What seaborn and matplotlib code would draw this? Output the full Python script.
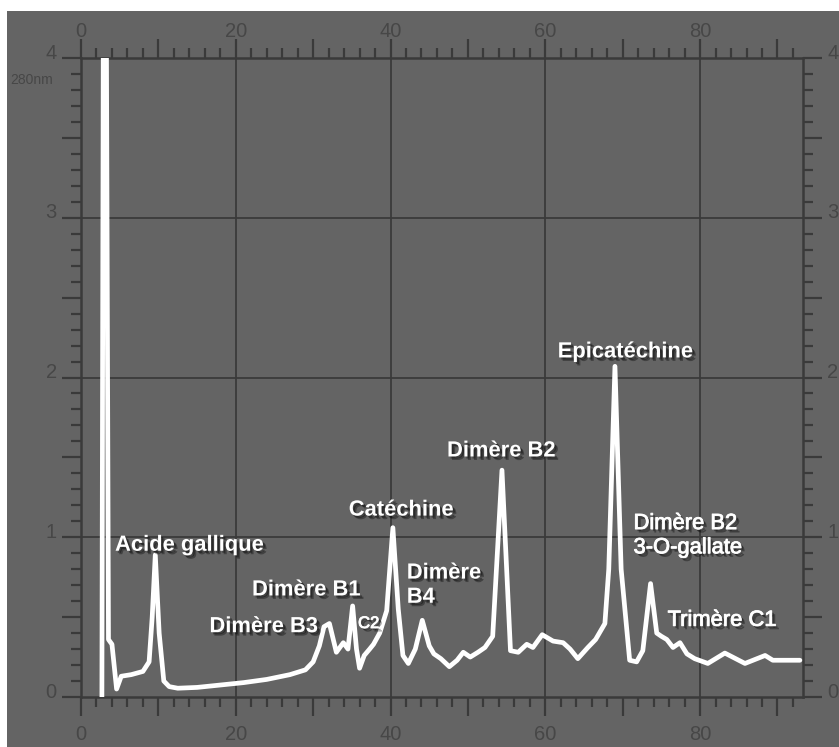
import matplotlib
matplotlib.use("Agg")
import matplotlib.pyplot as plt
import matplotlib.patheffects as pe
import matplotlib.transforms as mtransforms
from matplotlib.ticker import MultipleLocator, FuncFormatter
from matplotlib.patches import Rectangle
import seaborn as sns
import pandas as pd

# ---- data (retention time in min, absorbance at 280 nm) ----
time = [2.7, 2.9, 3.25, 3.55, 4.0, 4.6, 5.2, 6.5, 8.0, 8.8, 9.2, 9.6, 10.1, 10.7,
        11.4, 12.5, 15, 18, 21, 24, 27, 29, 30, 30.8, 31.4, 32.1, 33.0, 33.9,
        34.5, 35.1, 35.6, 36.0, 36.6, 37.3, 37.8, 38.6, 39.5, 40.3, 41.0, 41.6,
        42.3, 43.2, 44.1, 45.0, 45.6, 46.5, 47.6, 48.6, 49.4, 50.3, 51.3, 52.2,
        53.2, 54.4, 55.5, 56.5, 57.6, 58.4, 59.6, 61.0, 62.3, 63.2, 64.2, 65.5,
        66.5, 67.7, 68.2, 69.0, 69.8, 70.9, 71.8, 72.6, 73.6, 74.4, 75.0, 75.7,
        76.5, 77.4, 78.3, 79.3, 81.0, 83.2, 85.8, 88.4, 89.4, 92.9]
absorbance = [0.0, 4.6, 4.6, 0.36, 0.33, 0.05, 0.13, 0.14, 0.16, 0.22, 0.5, 0.89,
              0.4, 0.1, 0.065, 0.055, 0.06, 0.075, 0.09, 0.11, 0.14, 0.17, 0.22,
              0.32, 0.44, 0.46, 0.28, 0.34, 0.30, 0.57, 0.30, 0.18, 0.26, 0.30,
              0.33, 0.40, 0.54, 1.06, 0.55, 0.26, 0.21, 0.30, 0.48, 0.32, 0.27,
              0.24, 0.19, 0.23, 0.28, 0.25, 0.28, 0.31, 0.38, 1.42, 0.29, 0.28,
              0.33, 0.31, 0.39, 0.35, 0.34, 0.30, 0.24, 0.31, 0.36, 0.46, 0.8,
              2.07, 0.8, 0.23, 0.22, 0.29, 0.71, 0.40, 0.38, 0.36, 0.31, 0.34,
              0.27, 0.24, 0.21, 0.275, 0.21, 0.26, 0.23, 0.23]

# peak labels
peak_labels = ["Acide gallique", "Dimère B3", "Dimère B1", "C2", "Catéchine",
               "Dimère\nB4", "Dimère B2", "Epicatéchine", "Dimère B2\n3-O-gallate",
               "Trimère C1"]
label_x = [4.4, 16.6, 22.1, 35.8, 34.6, 42.1, 47.3, 61.6, 71.4, 75.8]
label_y = [0.95, 0.44, 0.67, 0.46, 1.17, 0.70, 1.54, 2.16, 1.01, 0.48]
label_bold = [True, True, True, False, True, True, True, True, False, False]

x_ticklabels = [0, 20, 40, 60, 80]
y_ticklabels = [0, 1, 2, 3, 4]
unit_label = "280nm"

df = pd.DataFrame({"time": time, "abs": absorbance})

sns.set_style("ticks")
plt.rcParams["font.family"] = ["Liberation Sans", "DejaVu Sans"]

BG = "#646464"
DARK = "#3a3a3a"
TXT = "#474747"

fig = plt.figure(figsize=(8.39, 7.47), dpi=100, facecolor="white")
fig.patches.append(Rectangle((7 / 839, 0), 1, 1 - 11 / 747, transform=fig.transFigure,
                             facecolor=BG, edgecolor="none", zorder=-10))
ax = fig.add_axes([81 / 839, 1 - 697 / 747, (803 - 81) / 839, (697 - 58) / 747])
ax.set_facecolor(BG)

for gx in x_ticklabels[1:]:
    ax.axvline(gx, color=DARK, lw=1.3, zorder=1)
for gy in y_ticklabels[1:-1]:
    ax.axhline(gy, color=DARK, lw=1.3, zorder=1)

sns.lineplot(data=df, x="time", y="abs", sort=False, estimator=None, ax=ax,
             color="white", lw=3.4, zorder=3)

ax.set_xlim(0, 93.3)
ax.set_ylim(0, 4)
ax.set_xlabel("")
ax.set_ylabel("")

for s in ax.spines.values():
    s.set_color(DARK)
    s.set_linewidth(1.8)
    s.set_visible(True)

ax.xaxis.set_major_locator(MultipleLocator(10))
ax.xaxis.set_minor_locator(MultipleLocator(2))
ax.yaxis.set_major_locator(MultipleLocator(0.5))
ax.yaxis.set_minor_locator(MultipleLocator(0.1))
ax.xaxis.set_major_formatter(FuncFormatter(
    lambda v, p: f"{int(round(v))}" if int(round(v)) in x_ticklabels and abs(v - round(v)) < 1e-6 else ""))
ax.yaxis.set_major_formatter(FuncFormatter(
    lambda v, p: f"{int(round(v))}" if abs(v - round(v)) < 1e-6 and int(round(v)) in y_ticklabels else ""))

ax.tick_params(which="both", direction="out", top=True, right=True,
               labeltop=True, labelright=True, color=DARK, width=1.6,
               labelcolor=TXT, labelsize=14.5)
ax.tick_params(which="major", length=13.5)
ax.tick_params(which="minor", length=7)
ax.tick_params(axis="x", which="major", pad=4)
ax.tick_params(axis="y", which="major", pad=4)

shift_up = mtransforms.ScaledTranslation(0, 5 / 72, fig.dpi_scale_trans)
for t in ax.yaxis.get_major_ticks():
    t.label1.set_transform(t.label1.get_transform() + shift_up)
    t.label2.set_transform(t.label2.get_transform() + shift_up)
shift_down = mtransforms.ScaledTranslation(0, -3 / 72, fig.dpi_scale_trans)
shift_top = mtransforms.ScaledTranslation(0, -5 / 72, fig.dpi_scale_trans)
for t in ax.xaxis.get_major_ticks():
    t.label1.set_transform(t.label1.get_transform() + shift_down)
    t.label2.set_transform(t.label2.get_transform() + shift_top)

ax.text(-0.068, 0.965, unit_label, transform=ax.transAxes, ha="center", va="center",
        fontsize=10, color=TXT)

shadow = [pe.SimplePatchShadow(offset=(2.5, -2.5), shadow_rgbFace="black", alpha=0.35),
          pe.SimplePatchShadow(offset=(1.5, -1.5), shadow_rgbFace="black", alpha=0.35),
          pe.Normal()]
shadow_light = [pe.SimplePatchShadow(offset=(2.5, -2.5), shadow_rgbFace="black", alpha=0.35),
                pe.SimplePatchShadow(offset=(1.5, -1.5), shadow_rgbFace="black", alpha=0.35),
                pe.withStroke(linewidth=0.6, foreground="white")]

for txt, lx, ly, b in zip(peak_labels, label_x, label_y, label_bold):
    size = 12 if txt == "C2" else 15.8
    ax.text(lx, ly, txt, ha="left", va="center", color="white",
            fontsize=size, fontweight="bold" if b else "normal",
            linespacing=1.2, zorder=5,
            path_effects=shadow if b else shadow_light)

fig.savefig("out.png", dpi=100, facecolor="white")
